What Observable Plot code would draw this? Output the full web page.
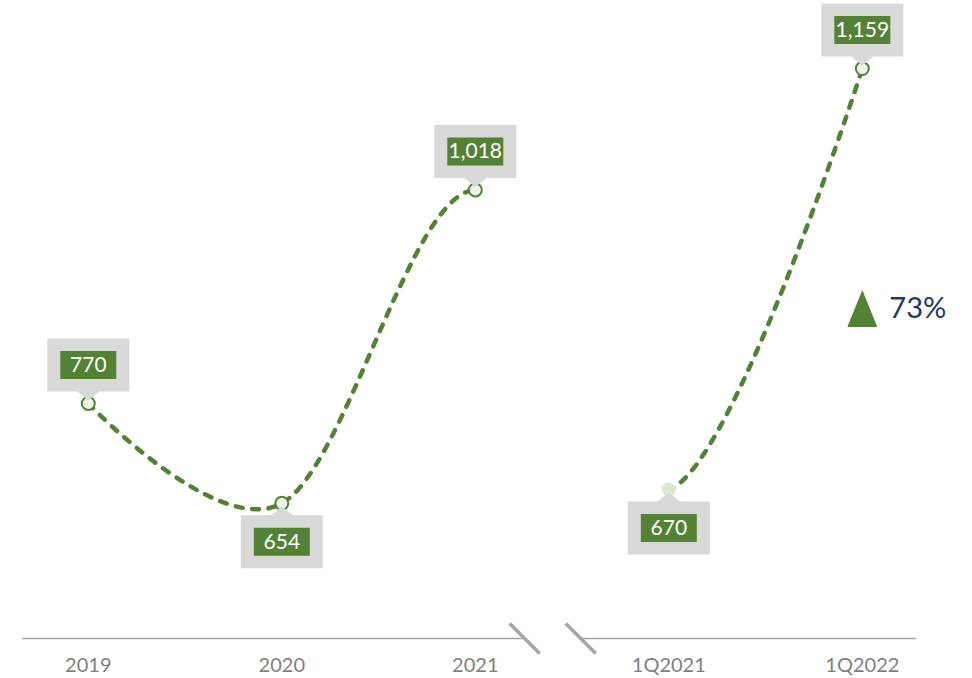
<!DOCTYPE html>
<html><head><meta charset="utf-8">
<script src="https://cdn.jsdelivr.net/npm/d3@7"></script>
<script src="https://cdn.jsdelivr.net/npm/@observablehq/plot@0.6"></script>
<style>body{margin:0;background:#fff} #chart{width:972px;height:678px}</style>
</head><body><div id="chart"></div>
<script>
// ---- data ----
const categories = ["2019", "2020", "2021", "1Q2021", "1Q2022"];
const values = [770, 654, 1018, 670, 1159];
const seriesNames = ["annual", "annual", "annual", "quarter", "quarter"];

// ---- styles ----
const green = "#548235", boxGray = "#d9d9d9", axisGray = "#a6a6a6", textGray = "#7f7f7f", navy = "#1f3864";

const data = categories.map((c, i) => ({i, category: c, value: values[i], series: seriesNames[i]}));
data.forEach(d => {
  const nb = data.filter(e => e.series === d.series && Math.abs(e.i - d.i) === 1);
  d.below = nb.every(e => e.value > d.value);
  d.first = !data.some(e => e.series === d.series && e.i < d.i);
  d.pale = d.first && d.series !== seriesNames[0];
});
const breakIdx = data.findIndex((d, k) => k > 0 && d.series !== data[k - 1].series);
const breakAt = breakIdx - 0.6;
const breakHalf = 0.145;
const quarter = data.filter(d => d.series === seriesNames[seriesNames.length - 1]);
const growth = quarter[quarter.length - 1].value / quarter[0].value - 1;

const xDomain = [-0.34, 4.28];
const yDomain = [497, 1238];

// ---- symbols ----
const BW = 82, BH = 53, GAP = 12, PW = 11;
function callout(dir) { // dir -1 above, +1 below
  return {draw(ctx) {
    const near = dir * GAP, far = dir * (GAP + BH);
    ctx.moveTo(-BW / 2, far); ctx.lineTo(BW / 2, far); ctx.lineTo(BW / 2, near);
    ctx.lineTo(PW, near); ctx.lineTo(0, dir * 3); ctx.lineTo(-PW, near);
    ctx.lineTo(-BW / 2, near); ctx.closePath();
  }};
}
function tag(dir) {
  const cy = dir * (GAP + BH / 2);
  return {draw(ctx) { ctx.rect(-28, cy - 14, 56, 28); }};
}
const slash = {draw(ctx) { ctx.moveTo(-15, -15); ctx.lineTo(15, 15); }};
const tri = {draw(ctx) { ctx.moveTo(0, -18.5); ctx.lineTo(15, 18.5); ctx.lineTo(-15, 18.5); ctx.closePath(); }};

const above = data.filter(d => !d.below), below = data.filter(d => d.below);
const fmt = d3.format(",");

const chart = Plot.plot({
  width: 972, height: 678,
  marginTop: 0, marginBottom: 40, marginLeft: 22, marginRight: 56,
  x: {domain: xDomain, label: null},
  y: {domain: yDomain, axis: null},
  marks: [
    Plot.ruleY([yDomain[0]], {x1: xDomain[0], x2: breakAt - breakHalf, stroke: axisGray, strokeWidth: 1.3}),
    Plot.ruleY([yDomain[0]], {x1: breakAt + breakHalf, x2: xDomain[1], stroke: axisGray, strokeWidth: 1.3}),
    Plot.dot([breakAt - breakHalf, breakAt + breakHalf], {x: d => d, y: () => yDomain[0], symbol: slash, stroke: axisGray, strokeWidth: 3.5, fill: "none"}),
    Plot.axisX({ticks: data.map(d => d.i), tickFormat: i => categories[i], tickSize: 0, tickPadding: 19, fontSize: 20, fontFamily: "Lato", color: textGray, label: null}),
    Plot.line(data, {x: "i", y: "value", curve: "cardinal", stroke: green, strokeWidth: 4.5, strokeDasharray: "7,9.5", strokeLinecap: "round"}),
    Plot.dot(data.filter(d => !d.pale), {x: "i", y: "value", r: 6.5, fill: "#eef4ea", stroke: green, strokeWidth: 2}),
    Plot.dot(data.filter(d => d.pale), {x: "i", y: "value", r: 7, fill: "#dbe8d1", stroke: "none"}),
    Plot.dot(above, {x: "i", y: "value", symbol: callout(-1), fill: boxGray, stroke: "none"}),
    Plot.dot(below, {x: "i", y: "value", symbol: callout(1), fill: boxGray, stroke: "none"}),
    Plot.dot(above, {x: "i", y: "value", symbol: tag(-1), fill: green, stroke: "none"}),
    Plot.dot(below, {x: "i", y: "value", symbol: tag(1), fill: green, stroke: "none"}),
    Plot.text(above, {x: "i", y: "value", text: d => fmt(d.value), dy: -(GAP + BH / 2), fill: "white", fontSize: 21, fontFamily: "Lato"}),
    Plot.text(below, {x: "i", y: "value", text: d => fmt(d.value), dy: GAP + BH / 2, fill: "white", fontSize: 21, fontFamily: "Lato"}),
    Plot.dot([growth], {x: () => quarter[quarter.length - 1].i, symbol: tri, fill: green, stroke: "none", dy: -11}),
    Plot.text([growth], {x: () => quarter[quarter.length - 1].i, text: d => d3.format(".0%")(d), textAnchor: "start", dx: 27, dy: -11, fill: navy, fontSize: 29, fontFamily: "Lato"})
  ]
});

// hide the connecting segment between the two series
const xs = chart.scale("x");
const xa = xs.apply(breakIdx - 1), xb = xs.apply(breakIdx);
const svg = d3.select(chart);
const cp = svg.append("defs").append("clipPath").attr("id", "gap-clip");
cp.append("rect").attr("x", -10).attr("y", -10).attr("width", xa + 10).attr("height", 700);
cp.append("rect").attr("x", xb).attr("y", -10).attr("width", 1000 - xb).attr("height", 700);
svg.selectAll('g[aria-label="line"]').attr("clip-path", "url(#gap-clip)");

document.getElementById("chart").appendChild(chart);
</script>
</body></html>
